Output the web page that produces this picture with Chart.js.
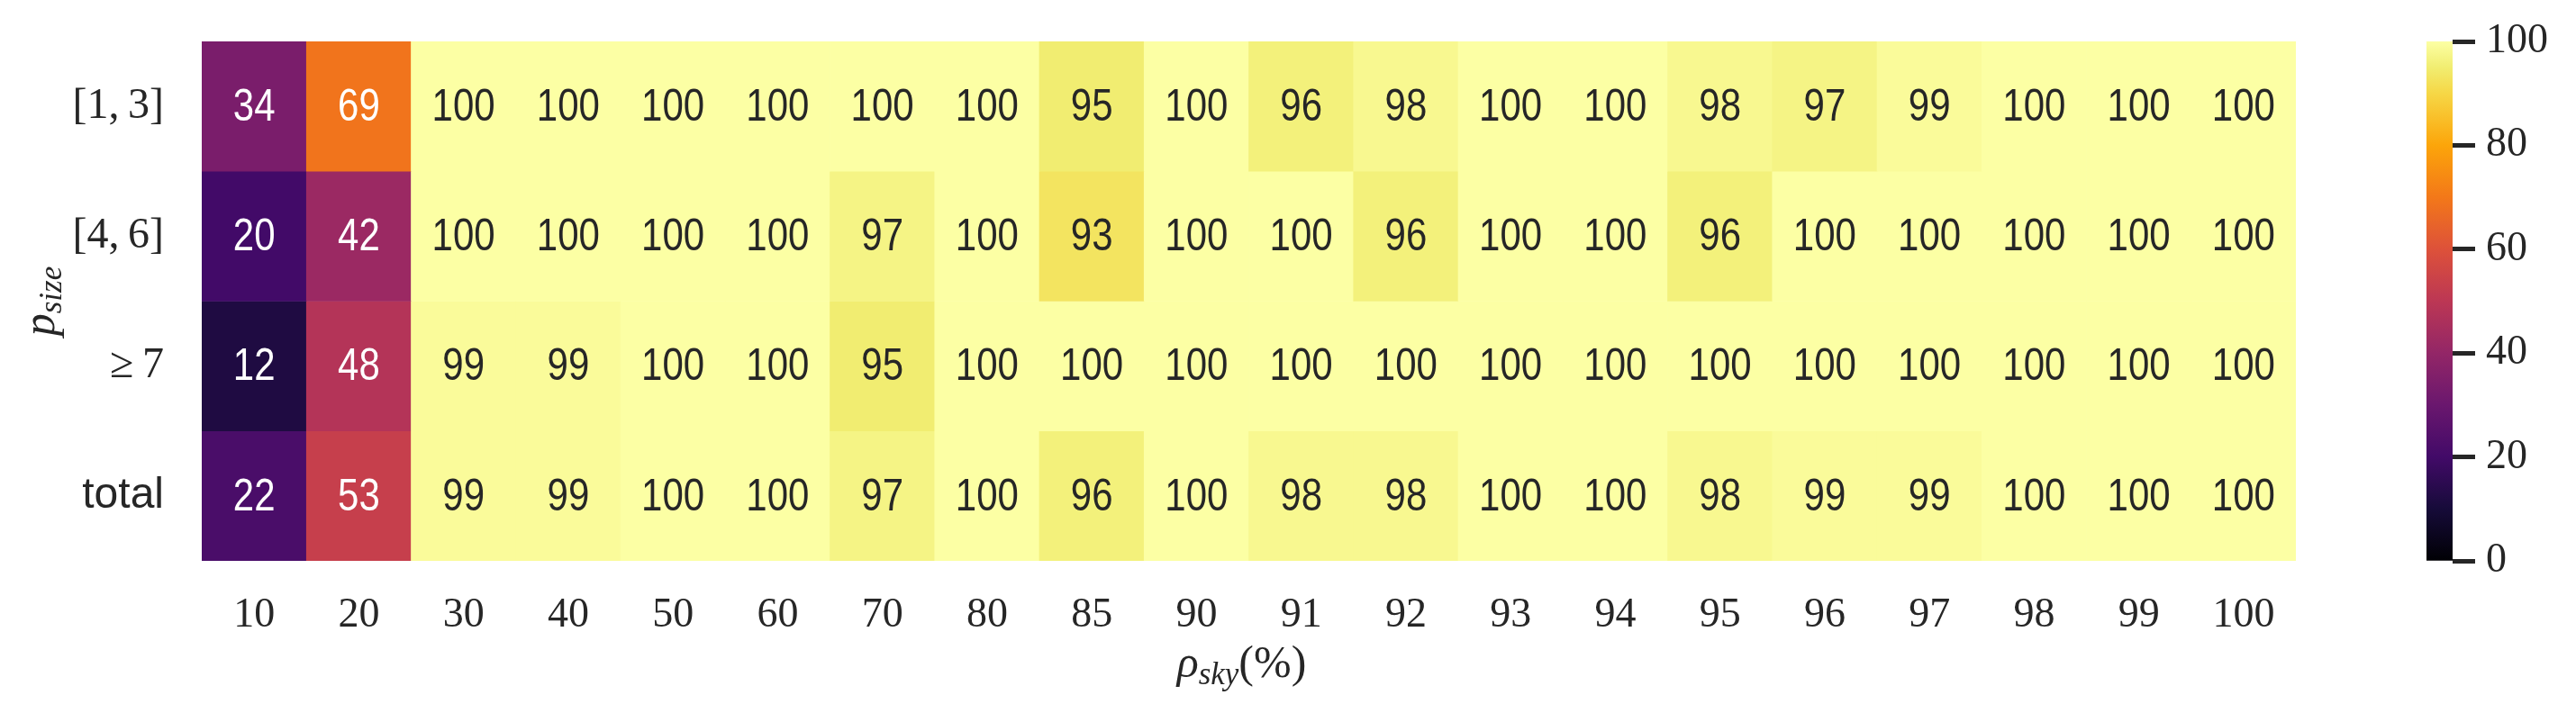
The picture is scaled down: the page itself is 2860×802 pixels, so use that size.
<!DOCTYPE html>
<html lang="en">
  <head>
    <meta charset="UTF-8" />
    <title>Heatmap</title>
    <script src="https://cdn.jsdelivr.net/npm/chart.js@4.4.1/dist/chart.umd.min.js"></script>
    <style>
      body { margin: 0; background: #fff; }
      #wrap { position: relative; width: 2860px; height: 802px; }
      #heat { position: absolute; left: 0; top: 0; }
      #cbar { position: absolute; left: 2600px; top: 0; }
    </style>
  </head>
  <body>
    <div id="wrap">
      <canvas id="heat" width="2600" height="802"></canvas>
      <canvas id="cbar" width="260" height="802"></canvas>
    </div>
    <script>
      // sky ratio columns (x axis)
      var skyLabels = ["10", "20", "30", "40", "50", "60", "70", "80", "85", "90", "91", "92", "93", "94", "95", "96", "97", "98", "99", "100"];
      // size groups (y axis)
      var sizeLabels = ["[1,\u20093]", "[4,\u20096]", "\u2265\u20097", "total"];

      var row13 = [34, 69, 100, 100, 100, 100, 100, 100, 95, 100, 96, 98, 100, 100, 98, 97, 99, 100, 100, 100];
      var row46 = [20, 42, 100, 100, 100, 100, 97, 100, 93, 100, 100, 96, 100, 100, 96, 100, 100, 100, 100, 100];
      var row7 = [12, 48, 99, 99, 100, 100, 95, 100, 100, 100, 100, 100, 100, 100, 100, 100, 100, 100, 100, 100];
      var rowTotal = [22, 53, 99, 99, 100, 100, 97, 100, 96, 100, 98, 98, 100, 100, 98, 99, 99, 100, 100, 100];
      var rows = [row13, row46, row7, rowTotal];

      var cbTicks = [0, 20, 40, 60, 80, 100];
      var vmin = 0, vmax = 100;

      // inferno colormap stops [position, colour]
      var INFERNO = [
        [0.0, "#000004"], [0.1, "#160b39"], [0.2, "#420a68"], [0.3, "#6a176e"],
        [0.4, "#932667"], [0.5, "#bc3754"], [0.6, "#dd513a"], [0.7, "#f37819"],
        [0.8, "#fca50a"], [0.9, "#f6d746"], [0.95, "#f1ed71"], [1.0, "#fcffa4"],
      ];

      function hexRgb(h) {
        return [parseInt(h.substr(1, 2), 16), parseInt(h.substr(3, 2), 16), parseInt(h.substr(5, 2), 16)];
      }

      function inferno(v) {
        var t = Math.min(1, Math.max(0, (v - vmin) / (vmax - vmin)));
        var i = 0;
        while (i < INFERNO.length - 2 && t > INFERNO[i + 1][0]) i++;
        var f = (t - INFERNO[i][0]) / (INFERNO[i + 1][0] - INFERNO[i][0]);
        var a = hexRgb(INFERNO[i][1]), b = hexRgb(INFERNO[i + 1][1]);
        var c = a.map((x, k) => Math.round(x + (b[k] - x) * f));
        return "rgb(" + c.join(",") + ")";
      }

      var serif = "'Liberation Serif', 'DejaVu Serif', serif";
      var sans = "'Liberation Sans', 'DejaVu Sans', sans-serif";
      var ink = "#262626";

      // one floating bar dataset per row, colored by value
      var datasets = rows.map((vals, r) => ({
        label: sizeLabels[r],
        data: vals.map(() => [r, r + 1]),
        backgroundColor: vals.map((v) => inferno(v)),
        borderWidth: 0,
        grouped: false,
        barPercentage: 1,
        categoryPercentage: 1,
      }));

      // numbers in the cells
      var cellText = {
        id: "cellText",
        afterDatasetsDraw(chart) {
          var c = chart.ctx;
          c.save();
          c.font = "50px " + sans;
          c.textAlign = "center";
          c.textBaseline = "middle";
          rows.forEach((vals, r) => {
            var meta = chart.getDatasetMeta(r);
            vals.forEach((v, i) => {
              var bar = meta.data[i];
              c.save();
              c.translate(bar.x, (bar.y + bar.base) / 2 + 2);
              c.scale(0.84, 1);
              c.fillStyle = v < 80 ? "#ffffff" : ink;
              c.fillText(String(v), 0, 0);
              c.restore();
            });
          });
          c.restore();
        },
      };

      // axis titles with subscripts
      function drawSub(c, parts) {
        var total = 0;
        parts.forEach((p) => {
          c.font = p.font;
          p.w = c.measureText(p.t).width;
          total += p.w;
        });
        var x = -total / 2;
        parts.forEach((p) => {
          c.font = p.font;
          c.fillText(p.t, x, p.dy || 0);
          x += p.w;
        });
      }

      var axisTitles = {
        id: "axisTitles",
        afterDraw(chart) {
          var c = chart.ctx;
          var a = chart.chartArea;
          c.save();
          c.fillStyle = ink;
          c.textAlign = "left";
          c.textBaseline = "alphabetic";
          // x title
          c.save();
          c.translate((a.left + a.right) / 2 - 8, 752);
          drawSub(c, [
            { t: "\u03c1", font: "italic 50px " + serif },
            { t: "sky", font: "italic 35px " + serif, dy: 8 },
            { t: "(%)", font: "50px " + serif },
          ]);
          c.restore();
          // y title
          c.save();
          c.translate(60, (a.top + a.bottom) / 2);
          c.rotate(-Math.PI / 2);
          drawSub(c, [
            { t: "p", font: "italic 50px " + serif },
            { t: "size", font: "italic 35px " + serif, dy: 8 },
          ]);
          c.restore();
          c.restore();
        },
      };

      var heatChart = new Chart(document.getElementById("heat"), {
        type: "bar",
        data: { labels: skyLabels, datasets: datasets },
        plugins: [cellText, axisTitles],
        options: {
          responsive: false,
          animation: false,
          layout: { padding: { top: 46, right: 51, bottom: 0, left: 0 } },
          plugins: { legend: { display: false }, tooltip: { enabled: false } },
          scales: {
            x: {
              grid: { display: false, drawTicks: false },
              border: { display: false },
              ticks: { color: ink, padding: 33, maxRotation: 0, font: { family: serif, size: 46 } },
              afterFit: (s) => { s.height = 179; },
            },
            y: {
              min: 0,
              max: 4,
              reverse: true,
              grid: { display: false, drawTicks: false },
              border: { display: false },
              afterBuildTicks: (s) => {
                s.ticks = sizeLabels.map((_, i) => ({ value: i + 0.5 }));
              },
              ticks: {
                color: ink,
                padding: 42,
                callback: (v, i) => sizeLabels[i],
                font: (ctx) => ({
                  family: ctx.index === 3 ? sans : serif,
                  size: 48,
                }),
              },
              afterFit: (s) => {
                s.width = 224;
                s.paddingTop = 0;
                s.paddingBottom = 0;
              },
            },
          },
        },
      });

      // colorbar
      var cbChart = new Chart(document.getElementById("cbar"), {
        type: "bar",
        data: {
          labels: [""],
          datasets: [
            {
              data: [[vmin, vmax]],
              borderWidth: 0,
              barPercentage: 1,
              categoryPercentage: 1,
              backgroundColor: (ctx) => {
                var area = ctx.chart.chartArea;
                if (!area) return INFERNO[0][1];
                var g = ctx.chart.ctx.createLinearGradient(0, area.bottom, 0, area.top);
                INFERNO.forEach((s) => g.addColorStop(s[0], s[1]));
                return g;
              },
            },
          ],
        },
        options: {
          responsive: false,
          animation: false,
          layout: { padding: { top: 46, right: 0, bottom: 179, left: 94 } },
          plugins: { legend: { display: false }, tooltip: { enabled: false } },
          scales: {
            x: { display: false },
            y: {
              position: "right",
              min: vmin,
              max: vmax,
              afterBuildTicks: (s) => {
                s.ticks = cbTicks.map((v) => ({ value: v }));
              },
              grid: { drawOnChartArea: false, tickLength: 25, tickWidth: 5, tickColor: ink },
              border: { display: false },
              ticks: { color: ink, padding: 12, font: { family: serif, size: 46 } },
              afterFit: (s) => { s.width = 137; },
            },
          },
        },
      });
    </script>
  </body>
</html>
